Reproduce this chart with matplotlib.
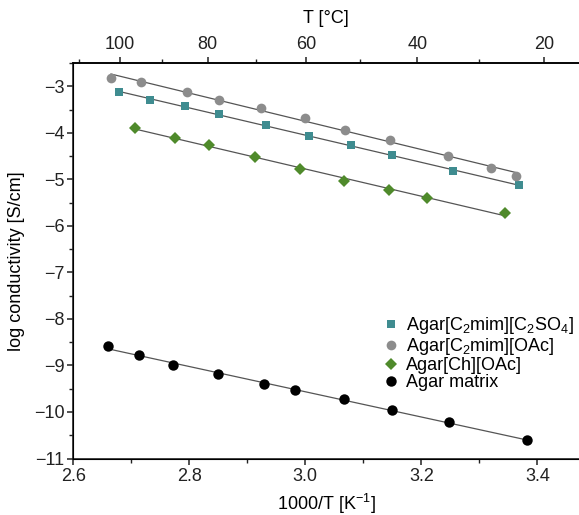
import numpy as np
import matplotlib
matplotlib.use("Agg")
import matplotlib.pyplot as plt
from matplotlib.ticker import MultipleLocator

plt.rcParams['font.family'] = ['Liberation Sans', 'DejaVu Sans']
plt.rcParams['mathtext.fontset'] = 'custom'
plt.rcParams['mathtext.rm'] = 'Liberation Sans'
plt.rcParams['mathtext.it'] = 'Liberation Sans:italic'
plt.rcParams['axes.unicode_minus'] = True

# ---- data (1000/T in K^-1, log conductivity in S/cm) ----
x_c2so4 = [2.678, 2.732, 2.792, 2.851, 2.932, 3.007, 3.078, 3.149, 3.255, 3.368]
y_c2so4 = [-3.13, -3.30, -3.42, -3.60, -3.83, -4.06, -4.26, -4.48, -4.83, -5.13]

x_oac = [2.665, 2.717, 2.796, 2.851, 2.924, 3.000, 3.068, 3.146, 3.246, 3.320, 3.363]
y_oac = [-2.82, -2.91, -3.12, -3.30, -3.47, -3.68, -3.95, -4.16, -4.49, -4.75, -4.92]

x_ch = [2.707, 2.775, 2.834, 2.914, 2.991, 3.067, 3.145, 3.210, 3.344]
y_ch = [-3.90, -4.11, -4.27, -4.53, -4.77, -5.03, -5.22, -5.41, -5.72]

x_agar = [2.659, 2.713, 2.772, 2.850, 2.928, 2.983, 3.066, 3.150, 3.247, 3.383]
y_agar = [-8.58, -8.78, -8.99, -9.19, -9.40, -9.53, -9.73, -9.95, -10.22, -10.61]

top_major_T = [100, 80, 60, 40, 20]
top_minor_T = [110, 90, 70, 50, 30]

series = [
    (x_c2so4, y_c2so4, 's', '#3f8c90', 6.0, r'Agar[C$_{\mathregular{2}}$mim][C$_{\mathregular{2}}$SO$_{\mathregular{4}}$]'),
    (x_oac, y_oac, 'o', '#8c8c8c', 7.0, r'Agar[C$_{\mathregular{2}}$mim][OAc]'),
    (x_ch, y_ch, 'D', '#4f8a2b', 6.0, 'Agar[Ch][OAc]'),
    (x_agar, y_agar, 'o', '#000000', 7.5, 'Agar matrix'),
]

fig = plt.figure(figsize=(5.79, 5.15), dpi=100)
ax = fig.add_axes([73.3 / 579, 1 - 458.5 / 515, (579 - 73.3) / 579, (458.5 - 63) / 515])

for xs, ys, mk, col, ms, lab in series:
    xs = np.array(xs); ys = np.array(ys)
    p = np.polyfit(xs, ys, 1)
    xl = np.array([xs.min(), xs.max()])
    ax.plot(xl, np.polyval(p, xl), color='#555555', lw=0.9, zorder=2)
    ax.plot(xs, ys, linestyle='none', marker=mk, color=col, ms=ms,
            markeredgewidth=0, label=lab, zorder=3)

ax.set_xlim(2.6, 2.6 + (579 - 73.3) / 580)
ax.set_ylim(-11, -2.5)
ax.xaxis.set_major_locator(MultipleLocator(0.2))
ax.xaxis.set_minor_locator(MultipleLocator(0.1))
ax.yaxis.set_major_locator(MultipleLocator(1))
ax.yaxis.set_minor_locator(MultipleLocator(0.5))
ax.xaxis.set_major_formatter(matplotlib.ticker.FormatStrFormatter('%.1f'))
ax.spines['right'].set_visible(False)
for s in ['left', 'bottom', 'top']:
    ax.spines[s].set_linewidth(1.2)
    ax.spines[s].set_color('#222222')
ax.tick_params(which='major', direction='out', length=4.5, width=1.1, labelsize=13,
               colors='#222222', pad=2)
ax.tick_params(which='minor', direction='out', length=3, width=1.0, colors='#222222')
ax.tick_params(axis='x', top=False)
ax.set_xlabel('1000/T [K$^{\\mathregular{-1}}$]', fontsize=13, labelpad=5)
ax.set_ylabel('log conductivity [S/cm]', fontsize=13, labelpad=6)

ax2 = ax.twiny()
ax2.set_xlim(ax.get_xlim())
ax2.spines['right'].set_visible(False)
ax2.spines['top'].set_linewidth(1.2)
ax2.set_xticks([1000 / (t + 273.15) for t in top_major_T])
ax2.set_xticklabels([str(t) for t in top_major_T])
ax2.set_xticks([1000 / (t + 273.15) for t in top_minor_T], minor=True)
ax2.tick_params(which='major', direction='out', length=4.5, width=1.1, labelsize=13,
                colors='#222222', pad=3)
ax2.tick_params(which='minor', direction='out', length=3, width=1.0, colors='#222222')
ax2.set_xlabel('T [°C]', fontsize=13, labelpad=9)

leg = ax.legend(loc='upper left', bbox_to_anchor=(380 / 579, 1 - 315 / 515),
                bbox_transform=fig.transFigure, frameon=False, fontsize=13,
                handletextpad=0.25, labelspacing=0.0, borderaxespad=0,
                handlelength=1.2, borderpad=0)

fig.savefig('out.png', dpi=100)
